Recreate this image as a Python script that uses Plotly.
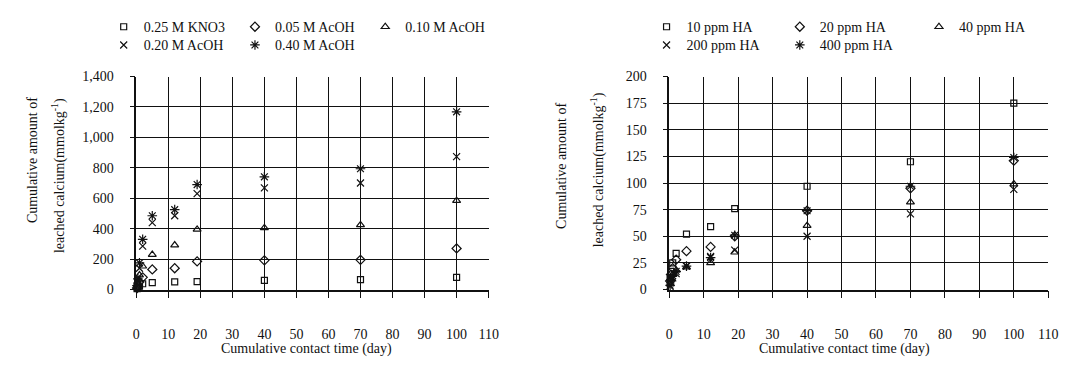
import plotly.graph_objects as go

W, H = 1079, 369

# ---------------- data ----------------
times = [0.25, 0.5, 1, 2, 5, 12, 19, 40, 70, 100]

left_names = ["0.25 M KNO3", "0.05 M AcOH", "0.10 M AcOH", "0.20 M AcOH", "0.40 M AcOH"]
kno3_025 = [5, 12, 22, 38, 45, 50, 52, 60, 65, 80]
acoh_005 = [10, 25, 50, 80, 132, 140, 185, 192, 195, 270]
acoh_010 = [15, 40, 95, 153, 230, 292, 395, 405, 425, 584]
acoh_020 = [20, 55, 140, 285, 440, 485, 630, 668, 700, 874]
acoh_040 = [25, 70, 175, 330, 485, 525, 690, 741, 794, 1168]
left_series = [kno3_025, acoh_005, acoh_010, acoh_020, acoh_040]

right_names = ["10 ppm HA", "20 ppm HA", "40 ppm HA", "200 ppm HA", "400 ppm HA"]
ha_10 = [10, 17, 25, 34, 52, 59, 76, 97, 120, 175]
ha_20 = [8, 14, 20, 28, 36, 40, 50, 74, 95, 121]
ha_40 = [5, 10, 14, 18, 21, 25, 35, 60, 82, 99]
ha_200 = [3, 7, 11, 15, 22, 31, 37, 50, 71, 94]
ha_400 = [4, 9, 13, 17, 22, 30, 51, 74, 97, 124]
right_series = [ha_10, ha_20, ha_40, ha_200, ha_400]

x_ticks = list(range(0, 111, 10))
left_yticks = list(range(0, 1401, 200))
right_yticks = list(range(0, 201, 25))

x_title = "Cumulative contact time (day)"
y_title_1 = "Cumulative amount of"
y_title_2 = "leached calcium(mmolkg<sup>-1</sup>)"

# ---------------- style ----------------
FONT = "Liberation Serif"
INK = "#111111"
symbols = ["square-open", "diamond-open", "triangle-up-open", "x-thin-open", "asterisk-open"]
sizes = [6, 7, 7, 7, 8]

# legend box left edge (px) and row centre (px)
left_leg_pos = [(101, 21), (234, 21), (366, 21), (101, 40), (234, 40)]
right_leg_pos = [(651, 21), (786, 21), (927, 21), (651, 40), (786, 40)]

fig = go.Figure()

def add_panel(series, names, xa, ya, leg_pos, leg_start):
    for i, (vals, name) in enumerate(zip(series, names)):
        lid = "legend" if leg_start + i == 1 else f"legend{leg_start + i}"
        fig.add_trace(go.Scatter(
            x=times, y=vals, name=name, mode="markers",
            xaxis=xa, yaxis=ya, legend=lid, cliponaxis=False,
            marker=dict(symbol=symbols[i], size=sizes[i], color=INK,
                        line=dict(color=INK, width=1.2)),
        ))
        lx, ly = leg_pos[i]
        fig.layout[lid] = dict(
            x=lx / W, y=1 - ly / H, xanchor="left", yanchor="middle",
            orientation="h", bgcolor="rgba(0,0,0,0)", borderwidth=0,
            font=dict(family=FONT, size=14, color=INK),
            itemclick=False, itemdoubleclick=False,
        )

add_panel(left_series, left_names, "x", "y", left_leg_pos, 1)
add_panel(right_series, right_names, "x2", "y2", right_leg_pos, 6)

ax_common = dict(showgrid=True, gridcolor=INK, gridwidth=1.3,
                 showline=True, linecolor=INK, linewidth=1.5,
                 zeroline=False, ticks="outside", tickcolor=INK, tickwidth=1.3,
                 tickfont=dict(family=FONT, size=14, color=INK))

yd = [1 - 294.5 / H, 1 - 72.5 / H]
fig.update_layout(
    width=W, height=H, margin=dict(l=0, r=0, t=0, b=0),
    paper_bgcolor="white", plot_bgcolor="white", showlegend=True,
    xaxis=dict(domain=[134 / W, 491 / W], range=[0, 110], tickvals=x_ticks,
               ticklen=7, ticklabelstandoff=24, anchor="y", **ax_common),
    yaxis=dict(domain=yd, range=[0, 1400], tickvals=left_yticks, tickformat=",d",
               ticklen=5, ticklabelstandoff=13, anchor="x", **ax_common),
    xaxis2=dict(domain=[674 / W, 1058 / W], range=[0, 110], tickvals=x_ticks,
                ticklen=7, ticklabelstandoff=24, anchor="y2", **ax_common),
    yaxis2=dict(domain=yd, range=[0, 200], tickvals=right_yticks,
                ticklen=5, ticklabelstandoff=13, anchor="x2", **ax_common),
)

ann_font = dict(family=FONT, size=14, color=INK)
anns = [
    (306, 356, x_title, 0),
    (852, 356, x_title, 0),
    (29, 160, y_title_1, -90),
    (56, 176, y_title_2, -90),
    (565, 166, y_title_1, -90),
    (601, 170, y_title_2, -90),
]
for x, y, t, ang in anns:
    fig.add_annotation(x=x / W, y=1 - y / H, xref="paper", yref="paper", text=t,
                       showarrow=False, textangle=ang, font=ann_font,
                       xanchor="center", yanchor="middle")

fig.write_html("out.html")
